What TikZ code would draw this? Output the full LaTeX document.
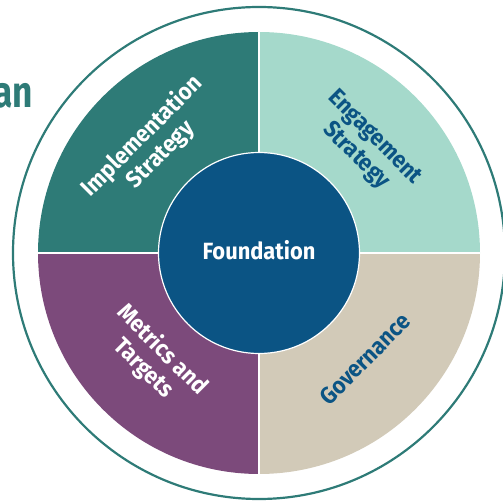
\documentclass[tikz,border=0pt]{standalone}
\usepackage{fontspec}
\setmainfont{Fira Sans}
\definecolor{impl}{HTML}{2E7B77}
\definecolor{engage}{HTML}{A5D9CB}
\definecolor{metric}{HTML}{7C4A7B}
\definecolor{gov}{HTML}{D2CAB8}
\definecolor{found}{HTML}{0B5484}
\definecolor{ringc}{HTML}{2E7B77}
\tikzset{
  quadlabel/.style={align=center, font=\bfseries\fontsize{23.5}{26}\selectfont, inner sep=0pt},
  divider/.style={draw=white, line width=1.6pt},
}
\begin{document}
\begin{tikzpicture}[x=1pt,y=1pt]
\useasboundingbox (0,0) rectangle (503,504);
\clip (0,0) rectangle (503,504);
\coordinate (c) at (259,251);
% quadrants
\fill[impl]   (c) -- ++(180:221) arc[start angle=180,end angle=90,radius=221] -- cycle;
\fill[engage] (c) -- ++(90:221) arc[start angle=90,end angle=0,radius=221] -- cycle;
\fill[gov]    (c) -- ++(0:221) arc[start angle=0,end angle=-90,radius=221] -- cycle;
\fill[metric] (c) -- ++(270:221) arc[start angle=270,end angle=180,radius=221] -- cycle;
\coordinate (l) at ([shift={(180:221)}]c);
\coordinate (r) at ([shift={(0:221)}]c);
\coordinate (t) at ([shift={(90:221)}]c);
\coordinate (b) at ([shift={(270:221)}]c);
\draw[divider] (l) -- (r);
\draw[divider] (t) -- (b);
% outer ring
\draw[ringc, line width=2.2pt] (c) circle[radius=246];
% centre
\node[circle, fill=found, draw=white, line width=1.2pt, minimum size=201pt, inner sep=0pt] (f) at (c) {};
\node[text=white, inner sep=0pt, font=\bfseries\fontsize{23.5}{24}\selectfont, xscale=0.93] (ft) at ([yshift=3pt]c) {Foundation};
% labels
\node[quadlabel, text=white, rotate=45, xscale=0.93] (li) at ([shift={(135:152)}]c) {Implementation\\Strategy};
\node[quadlabel, text=found, rotate=-45, xscale=0.93] (le) at ([shift={(45:150)}]c) {Engagement\\Strategy};
\node[quadlabel, text=white, rotate=-45, xscale=0.93] (lm) at ([shift={(225:150)}]c) {Metrics and\\Targets};
\node[quadlabel, text=found, rotate=45, xscale=0.93] (lg) at ([shift={(315:150)}]c) {Governance};
% cut-off heading
\node[anchor=base east, inner sep=0pt, text=ringc, font=\bfseries\fontsize{44}{44}\selectfont, xscale=0.8] (h) at (33,396) {an};
\end{tikzpicture}
\end{document}
